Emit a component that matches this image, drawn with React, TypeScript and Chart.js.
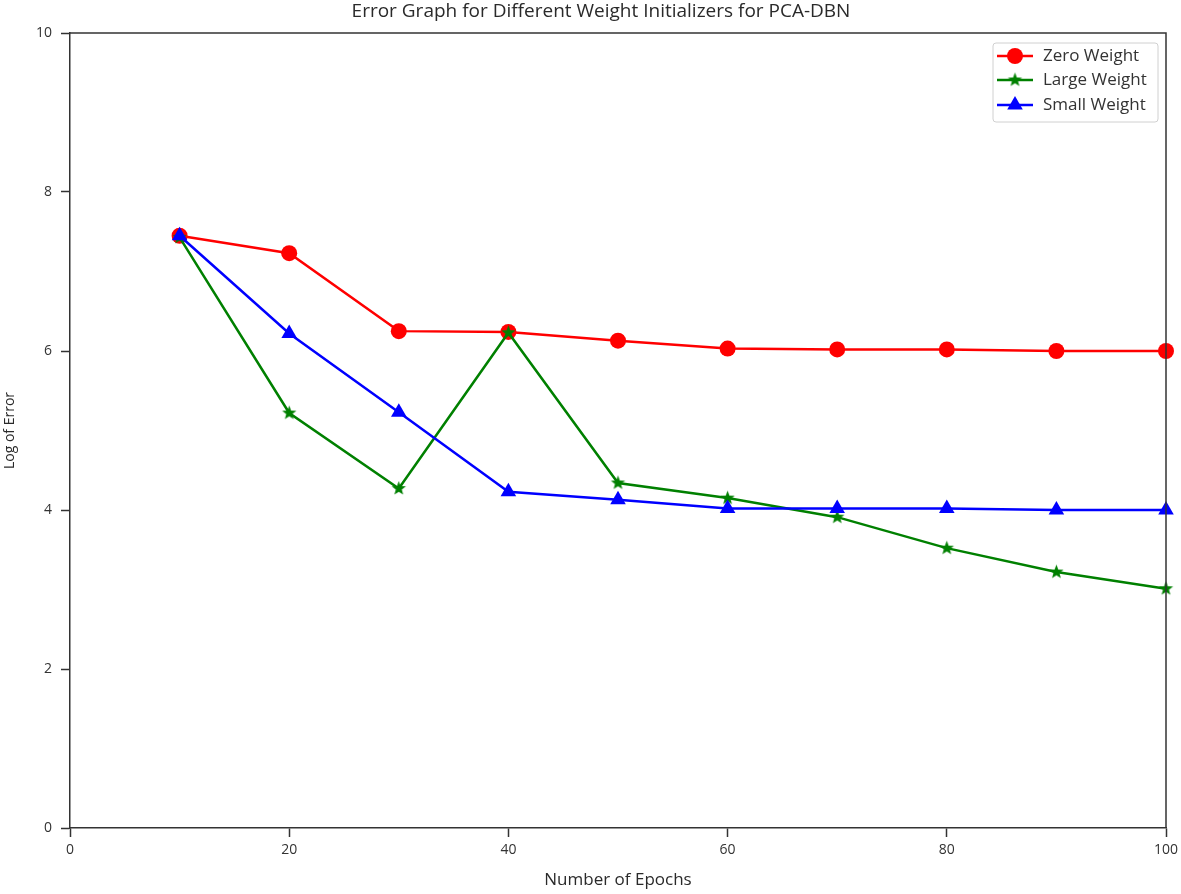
import React, { useEffect, useRef } from "react";
import { Chart, registerables } from "chart.js";

Chart.register(...registerables);

const epochs = [10, 20, 30, 40, 50, 60, 70, 80, 90, 100];
const zeroWeight = [7.45, 7.23, 6.25, 6.24, 6.13, 6.03, 6.02, 6.02, 6.0, 6.0];
const largeWeight = [7.43, 5.22, 4.27, 6.23, 4.34, 4.15, 3.91, 3.52, 3.22, 3.01];
const smallWeight = [7.45, 6.22, 5.23, 4.23, 4.13, 4.02, 4.02, 4.02, 4.0, 4.0];
const seriesLabels = ["Zero Weight", "Large Weight", "Small Weight"];
const seriesColors = ["#ff0000", "#008000", "#0000ff"];
const xTicks = [0, 20, 40, 60, 80, 100];
const yTicks = [0, 2, 4, 6, 8, 10];
const chartTitle = "Error Graph for Different Weight Initializers for PCA-DBN";

const FONT = "'Open Sans', 'Noto Sans', sans-serif";

function makeStar(color: string, outer: number): HTMLCanvasElement {
  const size = Math.ceil(outer * 2 + 2);
  const c = document.createElement("canvas");
  c.width = size;
  c.height = size;
  const ctx = c.getContext("2d")!;
  const cx = size / 2;
  const cy = size / 2;
  const inner = outer * 0.42;
  ctx.beginPath();
  for (let i = 0; i < 10; i++) {
    const r = i % 2 === 0 ? outer : inner;
    const a = -Math.PI / 2 + (i * Math.PI) / 5;
    const px = cx + r * Math.cos(a);
    const py = cy + r * Math.sin(a);
    if (i === 0) ctx.moveTo(px, py);
    else ctx.lineTo(px, py);
  }
  ctx.closePath();
  ctx.fillStyle = color;
  ctx.fill();
  return c;
}

export default function App() {
  const ref = useRef<HTMLCanvasElement | null>(null);

  useEffect(() => {
    if (!ref.current) return;
    const star = makeStar(seriesColors[1], 7.5);

    const drawMarker = (ctx: CanvasRenderingContext2D, kind: number, x: number, y: number) => {
      ctx.save();
      if (kind === 0) {
        ctx.beginPath();
        ctx.arc(x, y, 8, 0, Math.PI * 2);
        ctx.fillStyle = seriesColors[0];
        ctx.fill();
      } else if (kind === 1) {
        ctx.drawImage(star, x - star.width / 2, y - star.height / 2);
      } else {
        const r = 9;
        ctx.beginPath();
        ctx.moveTo(x, y - r);
        ctx.lineTo(x + r * Math.cos(Math.PI / 6), y + r * 0.5);
        ctx.lineTo(x - r * Math.cos(Math.PI / 6), y + r * 0.5);
        ctx.closePath();
        ctx.fillStyle = seriesColors[2];
        ctx.fill();
      }
      ctx.restore();
    };

    const framePlugin = {
      id: "frameAndLegend",
      afterDraw(chart: any) {
        const ctx: CanvasRenderingContext2D = chart.ctx;
        const a = chart.chartArea;
        ctx.save();
        ctx.strokeStyle = "#333";
        ctx.lineWidth = 1.5;
        ctx.beginPath();
        ctx.moveTo(a.left, a.top);
        ctx.lineTo(a.right, a.top);
        ctx.lineTo(a.right, a.bottom);
        ctx.stroke();

        // title
        ctx.fillStyle = "#2a2a2a";
        ctx.font = `19px ${FONT}`;
        ctx.textAlign = "center";
        ctx.textBaseline = "middle";
        ctx.fillText(chartTitle, (a.left + a.right) / 2 - 17, a.top - 21);

        // legend
        const bx = a.right - 173;
        const by = a.top + 10;
        const bw = 165;
        const bh = 79;
        ctx.fillStyle = "rgba(255,255,255,0.9)";
        ctx.strokeStyle = "#d0d0d0";
        ctx.lineWidth = 1;
        ctx.beginPath();
        const rr = 3;
        ctx.moveTo(bx + rr, by);
        ctx.lineTo(bx + bw - rr, by);
        ctx.quadraticCurveTo(bx + bw, by, bx + bw, by + rr);
        ctx.lineTo(bx + bw, by + bh - rr);
        ctx.quadraticCurveTo(bx + bw, by + bh, bx + bw - rr, by + bh);
        ctx.lineTo(bx + rr, by + bh);
        ctx.quadraticCurveTo(bx, by + bh, bx, by + bh - rr);
        ctx.lineTo(bx, by + rr);
        ctx.quadraticCurveTo(bx, by, bx + rr, by);
        ctx.closePath();
        ctx.fill();
        ctx.stroke();

        const rows = [by + 13, by + 37, by + 62];
        seriesLabels.forEach((label, i) => {
          const y = rows[i];
          ctx.strokeStyle = seriesColors[i];
          ctx.lineWidth = 2.5;
          ctx.beginPath();
          ctx.moveTo(bx + 4, y);
          ctx.lineTo(bx + 40, y);
          ctx.stroke();
          drawMarker(ctx, i, bx + 22, y);
          ctx.fillStyle = "#333";
          ctx.font = `17px ${FONT}`;
          ctx.textBaseline = "middle";
          ctx.textAlign = "left";
          ctx.fillText(label, bx + 50, y);
        });
        ctx.restore();
      },
    };

    const toPts = (arr: number[]) => epochs.map((x, i) => ({ x, y: arr[i] }));

    const chart = new Chart(ref.current, {
      type: "line",
      data: {
        datasets: [
          {
            label: seriesLabels[0],
            data: toPts(zeroWeight),
            borderColor: seriesColors[0],
            backgroundColor: seriesColors[0],
            borderWidth: 2.5,
            pointStyle: "circle",
            pointRadius: 8,
            pointBorderWidth: 0,
            order: 2,
          },
          {
            label: seriesLabels[1],
            data: toPts(largeWeight),
            borderColor: seriesColors[1],
            backgroundColor: seriesColors[1],
            borderWidth: 2.5,
            pointStyle: star as any,
            pointRadius: 8,
            pointBorderWidth: 0,
            order: 1,
          },
          {
            label: seriesLabels[2],
            data: toPts(smallWeight),
            borderColor: seriesColors[2],
            backgroundColor: seriesColors[2],
            borderWidth: 2.5,
            pointStyle: "triangle",
            pointRadius: 9,
            pointBorderWidth: 0,
            order: 0,
          },
        ],
      },
      options: {
        responsive: false,
        animation: false,
        devicePixelRatio: 1,
        clip: false as any,
        layout: { padding: { left: 0, right: 15, top: 33, bottom: 0 } },
        plugins: {
          legend: { display: false },
          tooltip: { enabled: false },
          title: { display: false },
        },
        scales: {
          x: {
            type: "linear",
            min: 0,
            max: 100,
            afterFit: (s: any) => {
              s.height = 66;
              s.paddingRight = 0;
              s.paddingLeft = 0;
            },
            afterBuildTicks: (s: any) => {
              s.ticks = xTicks.map((v) => ({ value: v }));
            },
            ticks: {
              color: "#333",
              font: { family: FONT, size: 14 },
              padding: 5,
              maxRotation: 0,
            },
            grid: {
              drawOnChartArea: false,
              drawTicks: true,
              tickLength: 9,
              tickColor: "#333",
              tickWidth: 1.5,
            },
            border: { display: true, color: "#333", width: 1.5 },
            title: {
              display: true,
              text: "Number of Epochs",
              color: "#2a2a2a",
              font: { family: FONT, size: 17 },
              padding: { top: 4, bottom: 4 },
            },
          },
          y: {
            type: "linear",
            min: 0,
            max: 10,
            afterFit: (s: any) => {
              s.width = 70;
              s.paddingTop = 0;
              s.paddingBottom = 0;
            },
            afterBuildTicks: (s: any) => {
              s.ticks = yTicks.map((v) => ({ value: v }));
            },
            ticks: {
              color: "#333",
              font: { family: FONT, size: 14 },
              padding: 9,
            },
            grid: {
              drawOnChartArea: false,
              drawTicks: true,
              tickLength: 9,
              tickColor: "#333",
              tickWidth: 1.5,
            },
            border: { display: true, color: "#333", width: 1.5 },
            title: {
              display: true,
              text: "Log of Error",
              color: "#2a2a2a",
              font: { family: FONT, size: 14 },
              padding: { top: 2, bottom: 2 },
            },
          },
        },
      },
      plugins: [framePlugin],
    });

    return () => chart.destroy();
  }, []);

  return (
    <div style={{ position: "fixed", left: 0, top: 0, width: 1181, height: 894, background: "#fff" }}>
      <canvas ref={ref} width={1181} height={894} style={{ display: "block" }} />
    </div>
  );
}
